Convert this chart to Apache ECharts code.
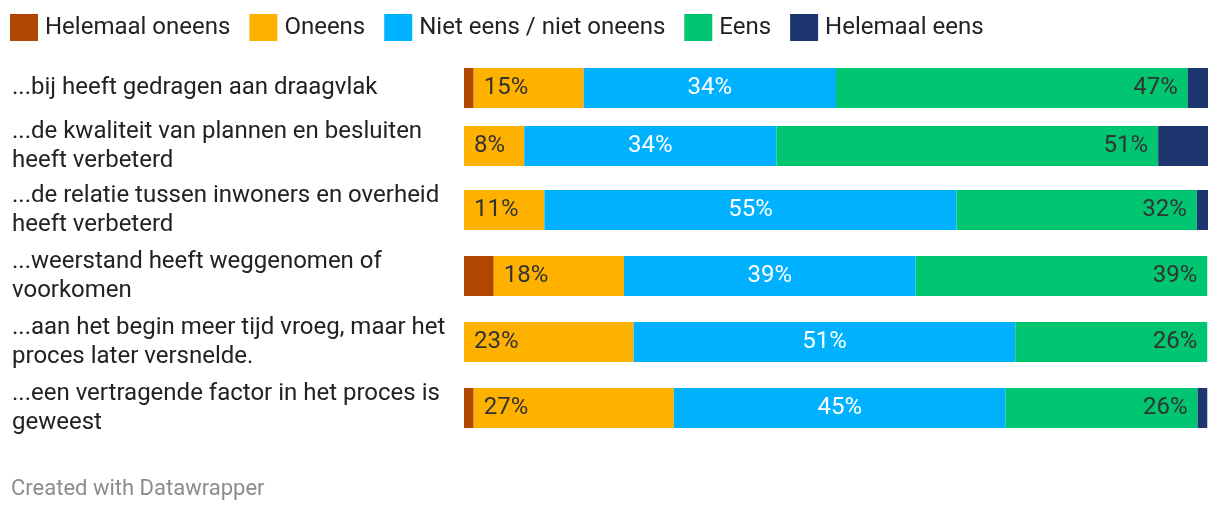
<!DOCTYPE html>
<html><head><meta charset="utf-8">
<script src="https://cdn.jsdelivr.net/npm/echarts@6/dist/echarts.min.js"></script>
<style>html,body{margin:0;padding:0;background:#fff}#c{width:1220px;height:514px}</style>
</head><body><div id="c"></div>
<script>
// ---- data ----
const categories = [
  '...bij heeft gedragen aan draagvlak',
  '...de kwaliteit van plannen en besluiten\nheeft verbeterd',
  '...de relatie tussen inwoners en overheid\nheeft verbeterd',
  '...weerstand heeft weggenomen of\nvoorkomen',
  '...aan het begin meer tijd vroeg, maar het\nproces later versnelde.',
  '...een vertragende factor in het proces is\ngeweest'
];
const seriesNames = ['Helemaal oneens', 'Oneens', 'Niet eens / niet oneens', 'Eens', 'Helemaal eens'];
const helemaalOneens = [1.3, 0, 0, 4.0, 0, 1.3];
const oneens = [14.8, 8.1, 10.8, 17.5, 22.8, 26.9];
const nietEens = [33.9, 33.9, 55.4, 39.2, 51.3, 44.6];
const eens = [47.3, 51.3, 32.3, 39.2, 25.8, 25.8];
const helemaalEens = [2.7, 6.7, 1.6, 0, 0, 1.3];
const footer = 'Created with Datawrapper';

// ---- layout / style ----
const values = [helemaalOneens, oneens, nietEens, eens, helemaalEens];
const colors = ['#b04600', '#ffb100', '#00b1ff', '#00c571', '#1d366f'];
const labelCfg = [
  null,
  { position: 'insideLeft', distance: 10, color: '#333' },
  { position: 'inside', color: '#ffffff' },
  { position: 'insideRight', distance: 10, color: '#333' },
  null
];
const rowTops = [68, 126, 190, 256, 322, 388];
const barH = 40, plotLeft = 464, plotWidth = 744;
const font = 'Roboto, "Noto Sans", sans-serif';

const grid = [], xAxis = [], yAxis = [], series = [];
categories.forEach((cat, i) => {
  grid.push({ left: plotLeft, width: plotWidth, top: rowTops[i], height: barH });
  xAxis.push({ gridIndex: i, type: 'value', min: 0, max: 100, show: false });
  yAxis.push({
    gridIndex: i, type: 'category', data: [cat],
    axisLine: { show: false }, axisTick: { show: false }, splitLine: { show: false },
    axisLabel: { align: 'left', margin: plotLeft - 12, fontSize: 24, lineHeight: 29, color: '#222', fontFamily: font }
  });
  seriesNames.forEach((name, s) => {
    const lc = labelCfg[s];
    series.push({
      type: 'bar', name, xAxisIndex: i, yAxisIndex: i, stack: 'row' + i,
      barWidth: barH, data: [values[s][i]],
      itemStyle: { color: colors[s] },
      label: lc ? {
        show: true, position: lc.position, distance: lc.distance, color: lc.color,
        fontSize: 24, fontFamily: font,
        formatter: p => p.value > 0 ? Math.round(p.value) + '%' : ''
      } : { show: false },
      emphasis: { disabled: true }, silent: true
    });
  });
});

const chart = echarts.init(document.getElementById('c'), null, { renderer: 'canvas' });
chart.setOption({
  animation: false,
  color: colors,
  title: { text: footer, left: 11, top: 478, padding: 0, textStyle: { fontSize: 22, color: '#8c8c8c', fontWeight: 'normal', fontFamily: font } },
  legend: {
    data: seriesNames, left: 10, top: 14, padding: 0, itemWidth: 28, itemHeight: 27, itemGap: 19, icon: 'rect',
    selectedMode: false,
    textStyle: { fontSize: 24, color: '#222', fontFamily: font, padding: [0, 0, 0, 2] }
  },
  grid, xAxis, yAxis, series
});
</script></body></html>
